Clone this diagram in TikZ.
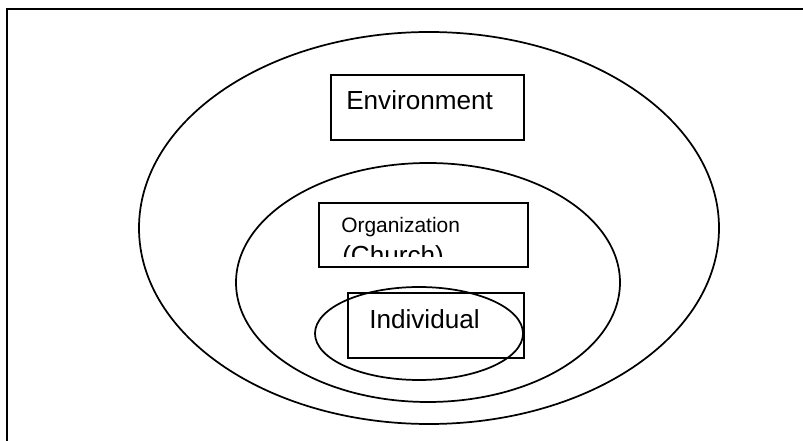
\documentclass[tikz,border=0pt]{standalone}
\usepackage{fontspec}
\setmainfont{Liberation Sans}
\usepackage{tikz}

\tikzset{
    ring/.style={line width=1.3pt},
    label box/.style={line width=1.3pt},
    big text/.style={inner sep=0pt,anchor=base west,font=\fontsize{19.6}{22}\selectfont},
    small text/.style={inner sep=0pt,anchor=base west,font=\fontsize{15.7}{18}\selectfont}
}

\begin{document}
\begin{tikzpicture}[x=0.75pt,y=-0.75pt]
            \useasboundingbox (0,0) rectangle (803,441);
            % frame, open at right and bottom
            \draw[line width=1.5pt] (7,441) -- (7,9.5) -- (803,9.5);
            % nested ellipses
            \draw[ring] (429,228) ellipse [x radius=290,y radius=196];
            \draw[ring] (428,282.5) ellipse [x radius=192,y radius=119.5];
            \draw[ring] (419,333.5) ellipse [x radius=104,y radius=46.5];
            % boxes
            \draw[label box] (331,75) rectangle (524,140);
            \draw[label box] (319,203) rectangle (528,267);
            \draw[label box] (348,293) rectangle (524,358);
            \node[big text] (env) at (346,110) {Environment};
            \node[small text] (org) at (341,233) {Organization};
            \begin{scope}
                \clip (319,203) rectangle (528,257);
                \node[big text] (church) at (342,265) {(Church)};
            \end{scope}
            \node[big text] (indiv) at (369,329) {Individual};
        \end{tikzpicture}
\end{document}
